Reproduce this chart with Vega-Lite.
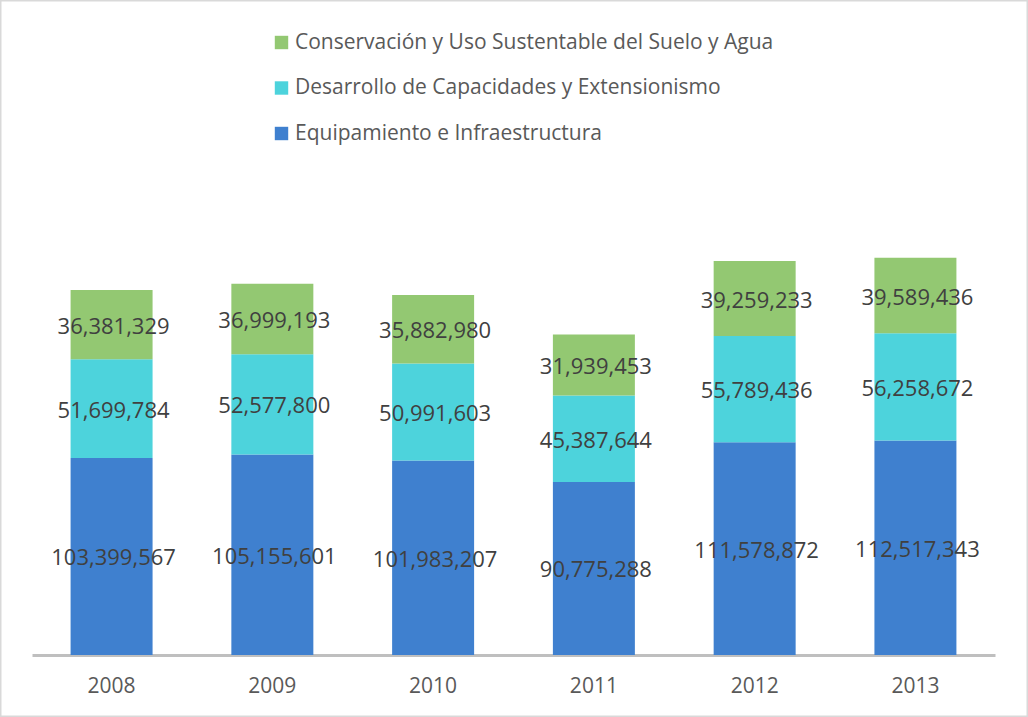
{
  "$schema": "https://vega.github.io/schema/vega-lite/v6.json",
  "width": 1028,
  "height": 717,
  "autosize": {"type": "none"},
  "padding": 0,
  "background": "white",
  "config": {
    "view": {"stroke": "#D9D9D9", "strokeWidth": 3},
    "font": "Open Sans"
  },
  "data": {
    "values": [
      {"anio": "2008", "serie": "Equipamiento e Infraestructura", "orden": 1, "monto": 103399567},
      {"anio": "2008", "serie": "Desarrollo de Capacidades y Extensionismo", "orden": 2, "monto": 51699784},
      {"anio": "2008", "serie": "Conservación y Uso Sustentable del Suelo y Agua", "orden": 3, "monto": 36381329},
      {"anio": "2009", "serie": "Equipamiento e Infraestructura", "orden": 1, "monto": 105155601},
      {"anio": "2009", "serie": "Desarrollo de Capacidades y Extensionismo", "orden": 2, "monto": 52577800},
      {"anio": "2009", "serie": "Conservación y Uso Sustentable del Suelo y Agua", "orden": 3, "monto": 36999193},
      {"anio": "2010", "serie": "Equipamiento e Infraestructura", "orden": 1, "monto": 101983207},
      {"anio": "2010", "serie": "Desarrollo de Capacidades y Extensionismo", "orden": 2, "monto": 50991603},
      {"anio": "2010", "serie": "Conservación y Uso Sustentable del Suelo y Agua", "orden": 3, "monto": 35882980},
      {"anio": "2011", "serie": "Equipamiento e Infraestructura", "orden": 1, "monto": 90775288},
      {"anio": "2011", "serie": "Desarrollo de Capacidades y Extensionismo", "orden": 2, "monto": 45387644},
      {"anio": "2011", "serie": "Conservación y Uso Sustentable del Suelo y Agua", "orden": 3, "monto": 31939453},
      {"anio": "2012", "serie": "Equipamiento e Infraestructura", "orden": 1, "monto": 111578872},
      {"anio": "2012", "serie": "Desarrollo de Capacidades y Extensionismo", "orden": 2, "monto": 55789436},
      {"anio": "2012", "serie": "Conservación y Uso Sustentable del Suelo y Agua", "orden": 3, "monto": 39259233},
      {"anio": "2013", "serie": "Equipamiento e Infraestructura", "orden": 1, "monto": 112517343},
      {"anio": "2013", "serie": "Desarrollo de Capacidades y Extensionismo", "orden": 2, "monto": 56258672},
      {"anio": "2013", "serie": "Conservación y Uso Sustentable del Suelo y Agua", "orden": 3, "monto": 39589436}
    ]
  },
  "transform": [
    {"stack": "monto", "groupby": ["anio"], "sort": [{"field": "orden", "order": "ascending"}], "as": ["y0", "y1"]},
    {"calculate": "(datum.y0 + datum.y1) / 2", "as": "ymid"}
  ],
  "encoding": {
    "x": {
      "field": "anio",
      "type": "ordinal",
      "scale": {"range": [32, 995], "paddingInner": 0.49, "paddingOuter": 0.24},
      "axis": {
        "title": null,
        "offset": -62,
        "domainColor": "#BFBFBF",
        "domainWidth": 3,
        "ticks": false,
        "labelAngle": 0,
        "labelFontSize": 21,
        "labelColor": "#595959",
        "labelPadding": 20,
        "labelFont": "Open Sans"
      }
    }
  },
  "layer": [
    {
      "mark": {"type": "bar"},
      "encoding": {
        "y": {
          "field": "y0",
          "type": "quantitative",
          "scale": {"domain": [0, 343600000], "range": [655, 0], "nice": false},
          "axis": null
        },
        "y2": {"field": "y1"},
        "color": {
          "field": "serie",
          "type": "nominal",
          "scale": {
            "domain": [
              "Conservación y Uso Sustentable del Suelo y Agua",
              "Desarrollo de Capacidades y Extensionismo",
              "Equipamiento e Infraestructura"
            ],
            "range": ["#93C872", "#4DD3DC", "#3F80CF"]
          },
          "legend": {
            "title": null,
            "orient": "none",
            "legendX": 271,
            "legendY": 32,
            "symbolType": "square",
            "symbolSize": 180,
            "symbolStrokeWidth": 0,
            "labelFontSize": 21,
            "labelColor": "#595959",
            "labelFont": "Open Sans",
            "labelLimit": 800,
            "rowPadding": 23.5,
            "labelOffset": 3
          }
        }
      }
    },
    {
      "mark": {"type": "text", "fontSize": 22, "color": "#404040", "font": "Open Sans", "dy": 2, "dx": 2},
      "encoding": {
        "y": {"field": "ymid", "type": "quantitative"},
        "text": {"field": "monto", "type": "quantitative", "format": ",d"}
      }
    }
  ]
}
